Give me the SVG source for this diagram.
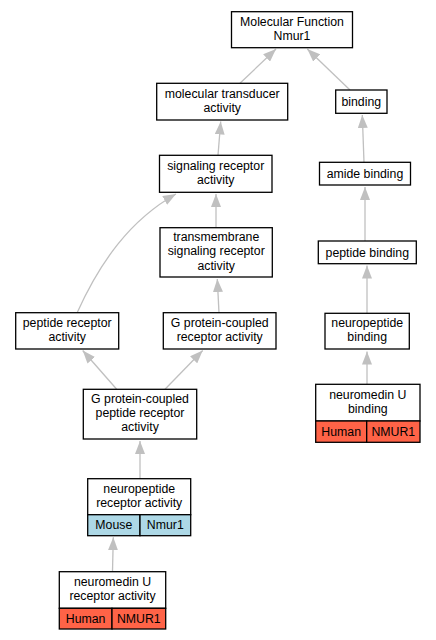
<svg xmlns="http://www.w3.org/2000/svg" width="436" height="640" viewBox="0 0 436 640">
<style>
.box{fill:#fff;stroke:#000;stroke-width:1.3}
.hum{fill:#ff6347;stroke:#000;stroke-width:1.3}
.mou{fill:#add8e6;stroke:#000;stroke-width:1.3}
.e{fill:none;stroke:#c0c0c0;stroke-width:1.3;marker-end:url(#ah)}
text{font-family:"Liberation Sans",Arial,sans-serif;font-size:12.3px;fill:#000;text-anchor:middle}
</style>
<defs>
<marker id="ah" viewBox="0 0 13 10" refX="13" refY="5" markerWidth="13" markerHeight="10" markerUnits="userSpaceOnUse" orient="auto">
<path d="M0,0 L13,5 L0,10 z" fill="#c0c0c0"/>
</marker>
</defs>
<rect width="436" height="640" fill="#fff"/>
<g id="connectors">
<path class="e" d="M240,83.3 L276,49"/>
<path class="e" d="M350,90 L307.3,49"/>
<path class="e" d="M218,155.3 L220.7,121.5"/>
<path class="e" d="M364,162.3 L362.3,115"/>
<path class="e" d="M365,241 L365,187"/>
<path class="e" d="M216,228 L216,194"/>
<path class="e" d="M77,313 C100,262 130,220 176,194"/>
<path class="e" d="M219,313 L217.3,279"/>
<path class="e" d="M367,313.3 L367,265.5"/>
<path class="e" d="M367,384.3 L367,351.5"/>
<path class="e" d="M116.7,389.3 L82.7,350.5"/>
<path class="e" d="M165,389.3 L202.7,350.5"/>
<path class="e" d="M140,478.7 L140,441"/>
<path class="e" d="M112.5,571.7 L113.3,537.3"/>
</g>
<g id="n_mf">
<rect class="box" x="231.5" y="11.7" width="121" height="36"/>
<text x="292" y="25.6">Molecular Function<tspan x="292" dy="14.2">Nmur1</tspan></text>
</g>
<g id="n_mt">
<rect class="box" x="156.7" y="83.3" width="131" height="36.7"/>
<text x="222.2" y="97.6">molecular transducer<tspan x="222.2" dy="14.2">activity</tspan></text>
</g>
<g id="n_binding">
<rect class="box" x="335.7" y="90" width="51.3" height="23.3"/>
<text x="361.3" y="106">binding</text>
</g>
<g id="n_sr">
<rect class="box" x="159.5" y="155.3" width="112.5" height="37"/>
<text x="215.7" y="169.7">signaling receptor<tspan x="215.7" dy="14.2">activity</tspan></text>
</g>
<g id="n_amide">
<rect class="box" x="319.5" y="162.3" width="91" height="22.7"/>
<text x="365" y="178">amide binding</text>
</g>
<g id="n_tm">
<rect class="box" x="160" y="227.7" width="112.3" height="49.3"/>
<text x="216.2" y="241.1">transmembrane<tspan x="216.2" dy="14.2">signaling receptor</tspan><tspan x="216.2" dy="14.2">activity</tspan></text>
</g>
<g id="n_pb">
<rect class="box" x="318.3" y="241" width="98" height="22.7"/>
<text x="367.3" y="256.7">peptide binding</text>
</g>
<g id="n_pr">
<rect class="box" x="15.7" y="312.7" width="103" height="36.3"/>
<text x="67.2" y="326.8">peptide receptor<tspan x="67.2" dy="14.2">activity</tspan></text>
</g>
<g id="n_gpcr">
<rect class="box" x="163.3" y="312.7" width="112.7" height="36.3"/>
<text x="219.7" y="326.8">G protein-coupled<tspan x="219.7" dy="14.2">receptor activity</tspan></text>
</g>
<g id="n_nb">
<rect class="box" x="325" y="313.3" width="84.3" height="35.7"/>
<text x="367.2" y="327.1">neuropeptide<tspan x="367.2" dy="14.2">binding</tspan></text>
</g>
<g id="n_gpcpr">
<rect class="box" x="83.3" y="389.3" width="113.4" height="49.7"/>
<text x="140" y="403">G protein-coupled<tspan x="140" dy="14.2">peptide receptor</tspan><tspan x="140" dy="14.2">activity</tspan></text>
</g>
<g id="n_nmub">
<rect class="box" x="315.7" y="384.3" width="104.3" height="36.7"/>
<rect class="hum" x="315.7" y="421" width="51" height="21.3"/>
<rect class="hum" x="366.7" y="421" width="53.3" height="21.3"/>
<text x="367.8" y="398.6">neuromedin U<tspan x="367.8" dy="14.2">binding</tspan></text>
<text x="341.2" y="435.8">Human</text>
<text x="393.3" y="435.8">NMUR1</text>
</g>
<g id="n_npr">
<rect class="box" x="87.7" y="478.7" width="103" height="36"/>
<rect class="mou" x="87.7" y="514.7" width="52.3" height="21"/>
<rect class="mou" x="140" y="514.7" width="50.7" height="21"/>
<text x="139.2" y="492.6">neuropeptide<tspan x="139.2" dy="14.2">receptor activity</tspan></text>
<text x="113.8" y="529.2">Mouse</text>
<text x="165.3" y="529.2">Nmur1</text>
</g>
<g id="n_nmur">
<rect class="box" x="59.3" y="571.7" width="106.4" height="36.6"/>
<rect class="hum" x="59.3" y="608.3" width="52.7" height="20.7"/>
<rect class="hum" x="112" y="608.3" width="53.7" height="20.7"/>
<text x="112.5" y="585.9">neuromedin U<tspan x="112.5" dy="14.2">receptor activity</tspan></text>
<text x="85.6" y="622.8">Human</text>
<text x="138.8" y="622.8">NMUR1</text>
</g>
</svg>
